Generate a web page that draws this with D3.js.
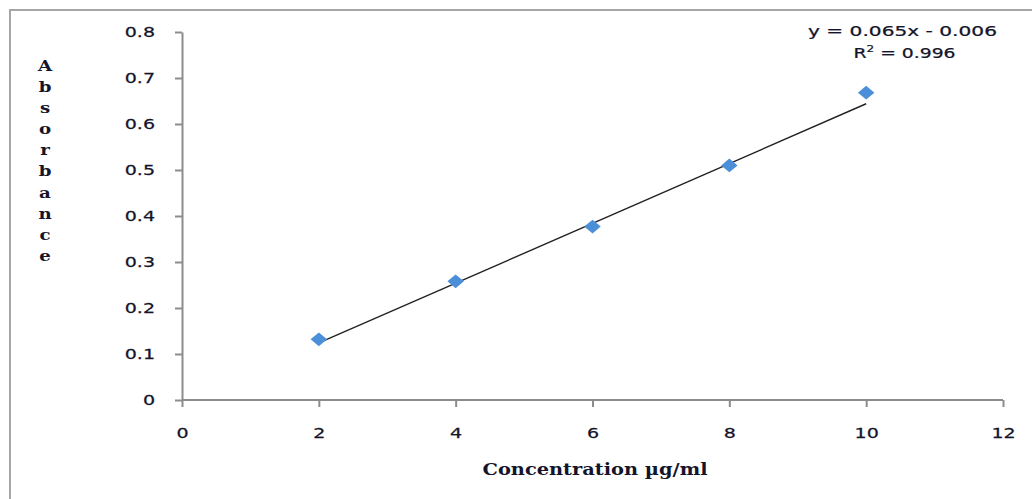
<!DOCTYPE html>
<html>
<head>
<meta charset="utf-8">
<script src="https://cdn.jsdelivr.net/npm/d3@7"></script>
<style>
  html, body { margin: 0; padding: 0; background: #fff; }
  svg { display: block; }
  .tick text { font-family: "DejaVu Sans", Verdana, sans-serif; font-size: 14px; fill: #14142a; stroke: #14142a; stroke-width: 0.25; }
  .axis path, .axis line { stroke: #8c8c8c; stroke-width: 2; }
  .eq { font-family: "DejaVu Sans", Verdana, sans-serif; font-size: 14px; fill: #14142a; stroke: #14142a; stroke-width: 0.25; text-anchor: middle; }
</style>
</head>
<body>
<div id="chart"></div>
<script>
/* ── data ── */
const concentration = [2, 4, 6, 8, 10];
const absorbance    = [0.132, 0.258, 0.377, 0.51, 0.668];
const xTicks = [0, 2, 4, 6, 8, 10, 12];
const yTicks = [0, 0.1, 0.2, 0.3, 0.4, 0.5, 0.6, 0.7, 0.8];
const slope = 0.065, intercept = -0.006, r2 = 0.996;
const yTitle = 'Absorbance';
const xTitle = 'Concentration µg/ml';

const W = 1032, H = 499;
const SX = 1.36;   // the original picture is stretched sideways

const svg = d3.select('#chart').append('svg').attr('width', W).attr('height', H);

/* outer chart frame */
svg.append('rect')
    .attr('x', 10).attr('y', 10).attr('width', W + 20).attr('height', H + 20)
    .attr('fill', 'none').attr('stroke', '#a6a6a6').attr('stroke-width', 2);

const x = d3.scaleLinear().domain([0, 12]).range([182, 1003]);
const y = d3.scaleLinear().domain([0, 0.8]).range([400, 32]);

/* axes */
svg.append('g').attr('class', 'axis')
    .attr('transform', `translate(0,${y(0)})`)
    .call(d3.axisBottom(x).tickValues(xTicks).tickSize(7).tickSizeOuter(0).tickPadding(21).tickFormat(d3.format('d')))
    .call(g => g.select('.domain').attr('d', `M${x(0)},0H${x(12)}`))
    .call(g => g.selectAll('.tick text').attr('transform', `scale(${SX},1)`));

svg.append('g').attr('class', 'axis')
    .attr('transform', `translate(${x(0)},0)`)
    .call(d3.axisLeft(y).tickValues(yTicks).tickSize(7).tickSizeOuter(0).tickFormat(d => d === 0 ? '0' : d3.format('.1f')(d)))
    .call(g => g.selectAll('.tick text')
        .attr('x', -27 / SX)
        .attr('transform', `scale(${SX},1)`));

/* linear trend line */
const xr = d3.extent(concentration);
svg.append('line')
    .attr('x1', x(xr[0])).attr('y1', y(slope * xr[0] + intercept))
    .attr('x2', x(xr[1])).attr('y2', y(slope * xr[1] + intercept))
    .attr('stroke', '#222').attr('stroke-width', 1.4);

/* diamond markers */
const diamond = d3.symbol().type(d3.symbolDiamond2).size(120);
svg.append('g').selectAll('path')
    .data(concentration.map((c, i) => [c, absorbance[i]]))
    .join('path')
    .attr('d', diamond)
    .attr('transform', d => `translate(${x(d[0])},${y(d[1])}) scale(1.2,1)`)
    .attr('fill', '#4a8fd8');

/* equation */
svg.append('text').attr('class', 'eq')
    .attr('transform', 'translate(902.5,36) scale(1.44,1)')
    .text(`y = ${slope}x - ${Math.abs(intercept).toFixed(3)}`);
const r = svg.append('text').attr('class', 'eq')
    .attr('transform', 'translate(904.5,58) scale(1.34,1)');
r.append('tspan').text('R');
r.append('tspan').attr('dy', -6).attr('font-size', 9).text('2');
r.append('tspan').attr('dy', 6).text(` = ${r2}`);

/* axis titles */
svg.append('g')
    .attr('transform', 'translate(45,0) scale(1.3,1)')
    .attr('font-family', '"DejaVu Serif", "Liberation Serif", serif')
    .attr('font-weight', 'bold').attr('font-size', 14).attr('fill', '#14142a')
    .attr('text-anchor', 'middle')
    .selectAll('text').data(yTitle.split('')).join('text')
    .attr('x', 0).attr('y', (d, i) => 71 + i * 21.1)
    .text(d => d);

svg.append('text')
    .attr('transform', 'translate(595,475) scale(1.14,1)')
    .attr('text-anchor', 'middle')
    .attr('font-family', '"DejaVu Serif", "Liberation Serif", serif')
    .attr('font-weight', 'bold').attr('font-size', 17)
    .attr('fill', '#14142a')
    .text(xTitle);
</script>
</body>
</html>
